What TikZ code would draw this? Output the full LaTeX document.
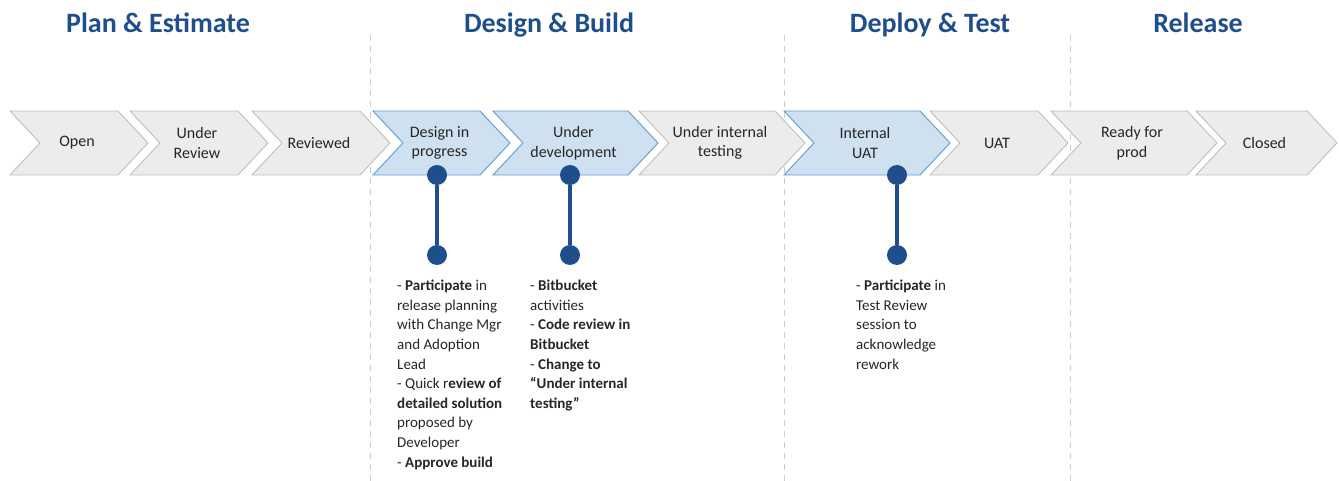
\documentclass[tikz,border=0pt]{standalone}
\usepackage{fontspec}
\setmainfont{Carlito}
\usepackage{tikz}
\usetikzlibrary{calc}
\definecolor{hdblue}{RGB}{31,78,140}
\definecolor{grayfill}{RGB}{236,236,236}
\definecolor{grayline}{RGB}{190,190,190}
\definecolor{bluefill}{RGB}{207,224,241}
\definecolor{blueline}{RGB}{91,155,213}
\definecolor{txt}{RGB}{38,38,38}
% chevron: name, left x, tip x, style, label
\newcommand{\chev}[5]{%
  \draw[#4] (#2,111) -- ($(#3,111)-(30,0)$) -- (#3,143) -- ($(#3,175)-(30,0)$)
    -- (#2,175) -- ($(#2,143)+(30,0)$) -- cycle;
  \node[stxt] (#1) at ($(#2,143)!0.5!(#3,143)+(-2,0)$) {#5};}
\def\drawstem{\draw[color=hdblue, line width=4pt]}

\begin{document}
\begin{tikzpicture}[x=1pt,y=-1pt,
  greychev/.style={fill=grayfill, draw=grayline, line width=0.9pt},
  bluechev/.style={fill=bluefill, draw=blueline, line width=0.9pt},
  stxt/.style={align=center, text=txt, inner sep=0pt, font=\fontsize{16}{19.5}\selectfont},
  phase/.style={anchor=base, text=hdblue, font=\fontsize{28}{32}\selectfont\bfseries},
  note/.style={align=left, anchor=north west, text=txt, inner sep=0pt, font=\fontsize{15}{19.6}\selectfont},
  dot/.style={circle, fill=hdblue, inner sep=0pt, minimum size=20pt},
  sep/.style={draw=gray!40, line width=0.9pt, dash pattern=on 6pt off 5pt}]
\useasboundingbox (0,0) rectangle (1339,481);

\node[phase] (plan) at (158,33) {Plan \& Estimate};
\node[phase] (build) at (549,33) {Design \& Build};
\node[phase] (deploy) at (930,33) {Deploy \& Test};
\node[phase] (release) at (1198,33) {Release};

\coordinate (s1t) at (370,35); \coordinate (s1b) at (370,481);
\coordinate (s2t) at (784,35); \coordinate (s2b) at (784,481);
\coordinate (s3t) at (1070,35); \coordinate (s3b) at (1070,481);
\draw[sep] (s1t) -- (s1b);
\draw[sep] (s2t) -- (s2b);
\draw[sep] (s3t) -- (s3b);

\chev{open}{10}{148}{greychev}{Open}
\chev{review}{130}{268}{greychev}{Under\\Review}
\chev{reviewed}{252}{390}{greychev}{Reviewed}
\chev{design}{373}{510}{bluechev}{Design in\\progress}
\chev{dev}{493}{658}{bluechev}{Under\\development}
\chev{inttest}{639}{805}{greychev}{Under internal\\testing}
\chev{intuat}{784}{950}{bluechev}{Internal\\UAT}
\chev{uat}{930}{1068}{greychev}{UAT}
\chev{ready}{1051}{1217}{greychev}{Ready for\\prod}
\chev{closed}{1196}{1337}{greychev}{Closed}

\node[dot] (da) at (437,175) {};
\node[dot] (db) at (437,255) {};
\drawstem (da) -- (db);
\node[dot] (ua) at (570,175) {};
\node[dot] (ub) at (570,255) {};
\drawstem (ua) -- (ub);
\node[dot] (ia) at (897,175) {};
\node[dot] (ib) at (897,255) {};
\drawstem (ia) -- (ib);

\node[note] (designnote) at (397,280) {- \textbf{Participate} in\\release planning\\with Change Mgr\\and Adoption\\Lead\\- Quick r\textbf{eview of}\\\textbf{detailed solution}\\proposed by\\Developer\\- \textbf{Approve build}};
\node[note] (devnote) at (530,280) {- \textbf{Bitbucket}\\activities\\- \textbf{Code review in}\\\textbf{Bitbucket}\\- \textbf{Change to}\\\textbf{“Under internal}\\\textbf{testing”}};
\node[note] (uatnote) at (856,280) {- \textbf{Participate} in\\Test Review\\session to\\acknowledge\\rework};
\end{tikzpicture}
\end{document}
